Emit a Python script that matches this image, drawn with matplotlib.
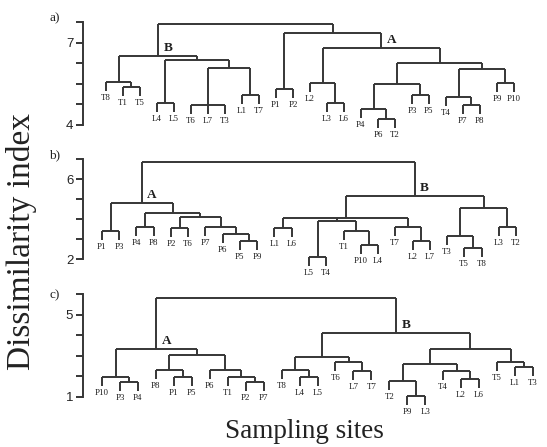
import matplotlib.pyplot as plt

W, H = 547, 447
INK = "#363636"
SERIF = "Liberation Serif"
SANS = "Liberation Sans"

# ---- data: leaf order, merges (first site, last site, dissimilarity), named groups ----
sites_a = ["T8", "T1", "T5", "L4", "L5", "T6", "L7", "T3", "L1", "T7", "P1", "P2", "L2",
           "L3", "L6", "P4", "P6", "T2", "P3", "P5", "T4", "P7", "P8", "P9", "P10"]
merges_a = [("T1", "T5", 5.39), ("T8", "T5", 5.57), ("L4", "L5", 4.80), ("T6", "T3", 4.73),
            ("L1", "T7", 5.10), ("T6", "T7", 6.09), ("L4", "T7", 6.38), ("T8", "T7", 6.52),
            ("P1", "P2", 5.32), ("L3", "L6", 4.80), ("L2", "L6", 5.54), ("P6", "T2", 4.22),
            ("P4", "T2", 4.59), ("P3", "P5", 5.10), ("P4", "P5", 5.50), ("P7", "P8", 4.73),
            ("T4", "P8", 5.02), ("P9", "P10", 5.54), ("T4", "P10", 6.05), ("P4", "P10", 6.27),
            ("L2", "P10", 6.82), ("P1", "P10", 7.37), ("T8", "P10", 7.70)]
groups_a = [("B", "T8", "T7"), ("A", "L2", "P10")]

sites_b = ["P1", "P3", "P4", "P8", "P2", "T6", "P7", "P6", "P5", "P9", "L1", "L6", "L5",
           "T4", "T1", "P10", "L4", "T7", "L2", "L7", "T3", "T5", "T8", "L3", "T2"]
merges_b = [("P1", "P3", 3.40), ("P4", "P8", 3.60), ("P2", "T6", 3.55), ("P5", "P9", 2.90),
            ("P6", "P9", 3.25), ("P7", "P9", 3.60), ("P2", "P9", 4.10), ("P4", "P9", 4.30),
            ("P1", "P9", 4.80), ("L1", "L6", 3.55), ("L5", "T4", 2.10), ("P10", "L4", 2.70),
            ("T1", "L4", 3.40), ("L5", "L4", 3.90), ("L2", "L7", 2.90), ("T7", "L7", 3.60),
            ("L1", "L7", 4.05), ("T5", "T8", 2.55), ("T3", "T8", 3.15), ("L3", "T2", 3.60),
            ("T3", "T2", 4.55), ("L1", "T2", 5.15), ("P1", "T2", 6.85)]
groups_b = [("A", "P1", "P9"), ("B", "L1", "T2")]

sites_c = ["P10", "P3", "P4", "P8", "P1", "P5", "P6", "T1", "P2", "P7", "T8", "L4", "L5",
           "T6", "L7", "T7", "T2", "P9", "L3", "T4", "L2", "L6", "T5", "L1", "T3"]
merges_c = [("P3", "P4", 1.73), ("P10", "P4", 1.98), ("P1", "P5", 1.98), ("P8", "P5", 2.32),
            ("P2", "P7", 1.73), ("T1", "P7", 1.98), ("P6", "P7", 2.32), ("P8", "P7", 3.05),
            ("P10", "P7", 3.34), ("L4", "L5", 1.98), ("T8", "L5", 2.32), ("L7", "T7", 2.27),
            ("T6", "T7", 2.71), ("T8", "T7", 2.95), ("P9", "L3", 1.05), ("T2", "L3", 1.78),
            ("L2", "L6", 1.88), ("T4", "L6", 2.27), ("T2", "L6", 2.61), ("L1", "T3", 2.46),
            ("T5", "T3", 2.71), ("T2", "T3", 3.34), ("T8", "T3", 4.12), ("P10", "T3", 5.83)]
groups_c = [("A", "P10", "P7"), ("B", "T8", "T3")]

# ---- layout per panel (pixel boxes, limits, ticks) ----
panels = [
    dict(tag="a)", sites=sites_a, merges=merges_a, groups=groups_a, box=(5, 140),
         ylim=(3.45, 8.39), xlim=(-1.35, 25.53), drop=0.33,
         ticks=[4, 4.75, 5.5, 6.25, 7, 7.75], labels={4: "4", 7: "7"}, tag_y=18),
    dict(tag="b)", sites=sites_b, merges=merges_b, groups=groups_b, box=(145, 280),
         ylim=(0.95, 7.7), xlim=(-1.10, 25.39), drop=0.45,
         ticks=[2, 3, 4, 5, 6, 7], labels={2: "2", 6: "6"}, tag_y=155),
    dict(tag="c)", sites=sites_c, merges=merges_c, groups=groups_c, box=(285, 415),
         ylim=(0.12, 6.46), xlim=(-1.06, 24.39), drop=0.45,
         ticks=[1, 2, 3, 4, 5, 6], labels={1: "1", 5: "5"}, tag_y=295),
]

fig = plt.figure(figsize=(W / 100, H / 100), dpi=100)
fig.patch.set_facecolor("white")


def children(span, spans):
    i0, i1 = span
    kids, i = [], i0
    while i <= i1:
        best = None
        for s in spans:
            if s[0] == i and s[1] <= i1 and s != span and (best is None or s[1] > best[1]):
                best = s
        if best:
            kids.append(best); i = best[1] + 1
        else:
            kids.append((i, i)); i += 1
    return kids


def draw(ax, span, heights, sites, drop, parent_h, node_x):
    kw = dict(color=INK, lw=1.4, solid_capstyle="butt", clip_on=False)
    if span[0] == span[1]:
        x = span[0]
        ax.plot([x, x], [parent_h, parent_h - drop], **kw)
        ax.annotate(sites[x], (x, parent_h - drop), xytext=(0, -2), textcoords="offset points",
                    ha="center", va="top", fontsize=6.4, family=SERIF, color="#1e1e1e",
                    annotation_clip=False)
        return x
    h = heights[span]
    xs = [draw(ax, k, heights, sites, drop, h, node_x) for k in children(span, heights)]
    ax.plot([xs[0], xs[-1]], [h, h], **kw)
    x = (xs[0] + xs[-1]) / 2
    if parent_h is not None:
        ax.plot([x, x], [h, parent_h], **kw)
    node_x[span] = x
    return x


for p in panels:
    top, bot = p["box"]
    ax = fig.add_axes([83 / W, 1 - bot / H, (540 - 83) / W, (bot - top) / H])
    ax.patch.set_visible(False)
    ax.set_xlim(*p["xlim"]); ax.set_ylim(*p["ylim"])
    idx = {s: i for i, s in enumerate(p["sites"])}
    heights = {(idx[a], idx[b]): h for a, b, h in p["merges"]}
    root = max(heights, key=lambda s: s[1] - s[0])
    node_x = {}
    draw(ax, root, heights, p["sites"], p["drop"], None, node_x)
    for name, a, b in p["groups"]:
        span = (idx[a], idx[b])
        ax.annotate(name, (node_x[span], heights[span]), xytext=(4, 1.5),
                    textcoords="offset points", ha="left", va="bottom", fontsize=9.5,
                    fontweight="bold", family=SERIF, color="#1e1e1e")
    for side in ("top", "right", "bottom"):
        ax.spines[side].set_visible(False)
    ax.spines["left"].set_bounds(p["ticks"][0], p["ticks"][-1])
    ax.spines["left"].set_linewidth(1.4)
    ax.spines["left"].set_color(INK)
    ax.set_xticks([])
    ax.set_yticks(p["ticks"])
    ax.set_yticklabels([p["labels"].get(t, "") for t in p["ticks"]], family=SANS, fontsize=9.5)
    ax.tick_params(axis="y", length=5, width=1.4, color=INK, pad=2, labelcolor="#222")
    fig.text(49 / W, 1 - p["tag_y"] / H, p["tag"], family=SERIF, fontsize=9.5,
             ha="left", va="center", color="#222")

fig.text(22 / W, 1 - 241 / H, "Dissimilarity index", rotation=90, family=SERIF,
         fontsize=24, ha="center", va="center", color="#222")
fig.text(304 / W, 1 - 432 / H, "Sampling sites", family=SERIF, fontsize=19.5,
         ha="center", va="center", color="#222")

fig.savefig("out.png", dpi=100, facecolor="white")
